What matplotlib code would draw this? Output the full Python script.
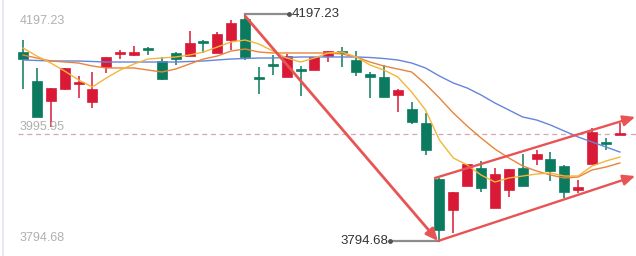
import matplotlib
matplotlib.use("Agg")
import matplotlib.pyplot as plt
from matplotlib.patches import Rectangle, FancyArrowPatch
import numpy as np

plt.rcParams['font.family'] = ['Liberation Sans', 'DejaVu Sans']

# ---- data ----
opens = [4129.84, 4078.42, 4042.95, 4064.23, 4073.10, 4041.18, 4103.24, 4126.30, 4124.52, 4136.05,
         4113.88, 4128.07, 4122.75, 4148.46, 4128.07, 4151.12, 4188.36, 4084.62, 4107.68, 4085.51,
         4098.81, 4097.92, 4122.75, 4130.73, 4115.66, 4090.83, 4085.51, 4053.59, 4028.76, 4003.93,
         3904.63, 3849.65, 3892.21, 3924.13, 3853.20, 3885.12, 3924.13, 3940.09, 3940.09, 3927.68,
         3885.12, 3931.23, 3969.35, 3983.54]
highs = [4151.12, 4101.47, 4066.00, 4101.47, 4087.28, 4094.38, 4120.98, 4133.39, 4140.48, 4138.71,
         4120.98, 4129.84, 4167.08, 4151.12, 4165.31, 4186.59, 4197.23, 4103.24, 4124.52, 4126.30,
         4105.02, 4120.98, 4131.62, 4138.71, 4131.62, 4094.38, 4106.79, 4064.23, 4041.18, 4021.67,
         3906.40, 3881.57, 3931.23, 3936.55, 3924.13, 3922.36, 3948.96, 3956.05, 3952.51, 3929.45,
         3902.85, 3995.07, 3977.33, 4003.93]
lows = [4064.23, 4014.58, 3996.84, 4062.46, 4048.27, 4030.54, 4092.60, 4117.43, 4122.75, 4124.52,
        4080.19, 4106.79, 4122.75, 4128.07, 4128.07, 4133.39, 4115.66, 4055.36, 4089.06, 4085.51,
        4051.82, 4097.92, 4112.11, 4103.24, 4087.28, 4048.27, 4050.04, 4023.44, 4002.16, 3947.19,
        3794.68, 3808.87, 3892.21, 3881.57, 3853.20, 3872.71, 3892.21, 3929.45, 3901.08, 3870.93,
        3879.80, 3931.23, 3956.05, 3982.65]
closes = [4117.43, 4014.58, 4066.00, 4101.47, 4076.64, 4064.23, 4120.98, 4129.84, 4129.84, 4134.28,
          4081.96, 4117.43, 4145.80, 4146.69, 4161.76, 4181.27, 4120.98, 4082.85, 4105.90, 4122.75,
          4097.04, 4120.98, 4131.62, 4128.96, 4094.38, 4085.51, 4050.04, 4062.46, 4005.71, 3956.05,
          3814.19, 3881.57, 3931.23, 3888.67, 3913.49, 3922.36, 3892.21, 3948.96, 3918.81, 3881.57,
          3890.44, 3987.97, 3967.58, 3985.31]

ma_short = [4136.9, 4122.7, 4110.3, 4096.1, 4080.2, 4067.8, 4083.7, 4097.9, 4108.6, 4117.4,
            4119.2, 4121.0, 4124.5, 4129.8, 4138.7, 4147.6, 4151.1, 4144.0, 4131.6, 4119.2,
            4112.1, 4119.2, 4128.1, 4129.8, 4121.0, 4106.8, 4097.9, 4085.5, 4058.9, 4027.0,
            3973.8, 3941.9, 3929.5, 3911.7, 3899.3, 3906.4, 3909.9, 3913.5, 3915.3, 3909.9,
            3909.9, 3927.7, 3936.5, 3943.6]
ma_mid = [4124.5, 4119.2, 4113.9, 4112.1, 4110.3, 4105.0, 4101.5, 4101.5, 4101.5, 4097.9,
          4094.4, 4099.7, 4108.6, 4117.4, 4122.7, 4131.6, 4135.2, 4129.8, 4128.1, 4128.1,
          4128.1, 4128.1, 4128.1, 4126.3, 4121.0, 4112.1, 4105.0, 4099.7, 4094.4, 4073.1,
          4048.3, 4021.7, 3998.6, 3977.3, 3957.8, 3941.9, 3927.7, 3918.8, 3911.7, 3906.4,
          3908.2, 3920.6, 3925.9, 3933.0]
ma_long = [4115.7, 4114.8, 4113.9, 4113.9, 4113.9, 4113.0, 4112.1, 4112.1, 4112.1, 4112.1,
           4112.1, 4112.1, 4113.0, 4113.9, 4115.7, 4117.4, 4118.3, 4119.2, 4119.2, 4120.1,
           4121.0, 4121.0, 4121.0, 4121.0, 4121.0, 4120.1, 4118.3, 4115.7, 4110.3, 4101.5,
           4087.3, 4074.9, 4066.0, 4053.6, 4039.4, 4027.0, 4014.6, 4009.3, 4000.4, 3989.7,
           3979.1, 3970.2, 3961.4, 3952.5]

axis_labels = ["4197.23", "3995.95", "3794.68"]
max_label = "4197.23"
min_label = "3794.68"

# ---- styling ----
RED = '#d81a36'
GREEN = '#0b7a5e'
ARROW = '#e85454'

fig = plt.figure(figsize=(6.36, 2.56), dpi=100)
ax = fig.add_axes([0, 0, 1, 1])
ax.set_axis_off()
ax.set_xlim(-1.657, 44.164)
ax.set_ylim(3768.08, 4222.06)

n = len(opens)
x = np.arange(n)
bw = 0.72
for i in range(n):
    o, h, l, c = opens[i], highs[i], lows[i], closes[i]
    col = RED if c > o else GREEN
    ax.vlines(i, l, h, color=col, lw=1.1, zorder=2)
    bottom = min(o, c)
    height = max(abs(c - o), 2.2)
    if abs(c - o) < 2.2:
        bottom = (o + c) / 2 - 1.1
    ax.add_patch(Rectangle((i - bw / 2, bottom), bw, height, facecolor=col,
                           edgecolor=col, lw=0.5, zorder=3))

ax.plot(x, ma_long, color='#6485db', lw=1.0, zorder=4)
ax.plot(x, ma_mid, color='#e8843c', lw=1.0, zorder=4)
ax.plot(x, ma_short, color='#f5b53a', lw=1.0, zorder=4)

# current price dashed line
ax.axhline(closes[-1], xmin=18 / 636, xmax=1, color='#dba3b4', lw=0.9,
           ls=(0, (4, 3)), zorder=1)

# left border
ax.axvline(-1.657 + 3 / 13.88, color='#e3e6ee', lw=1.2, zorder=1)

# axis value labels
for lab, ypix in zip(axis_labels, [21.5, 126.8, 237.8]):
    ax.text(20 / 636, 1 - ypix / 256, lab, transform=ax.transAxes, fontsize=9,
            color='#b0b0b0', ha='left', va='center')

# max / min annotations
imax = int(np.argmax(highs))
imin = int(np.argmin(lows))
x_end_max = imax + 44 / 13.88
ax.plot([imax, x_end_max], [highs[imax], highs[imax]], color='#8c8c8c', lw=1.6, zorder=5)
ax.plot([x_end_max], [highs[imax]], 'o', color='#555555', ms=2.5, zorder=6)
ax.text(x_end_max + 3 / 13.88, highs[imax], max_label, fontsize=9.5, color='#333333',
        ha='left', va='center', zorder=6)
x_start_min = imin - 49 / 13.88
ax.plot([x_start_min, imin], [lows[imin], lows[imin]], color='#8c8c8c', lw=1.6, zorder=5)
ax.plot([x_start_min], [lows[imin]], 'o', color='#555555', ms=2.5, zorder=6)
ax.text(x_start_min - 2 / 13.88, lows[imin], min_label, fontsize=9.5, color='#333333',
        ha='right', va='center', zorder=6)

# trend arrows
def arrow(p0, p1, lw):
    a = FancyArrowPatch(p0, p1, arrowstyle='-|>,head_length=4.5,head_width=2.0',
                        color=ARROW, lw=lw, zorder=7, shrinkA=0, shrinkB=0,
                        mutation_scale=1.6)
    ax.add_patch(a)

arrow((imax, 4193.7), (imin - 0.1, lows[imin]), 2.0)
arrow((29.68, 3906.4), (44.1, 4014.6), 1.7)
arrow((29.9, 3794.7), (44.1, 3909.9), 1.7)

fig.savefig('out.png', dpi=100)
